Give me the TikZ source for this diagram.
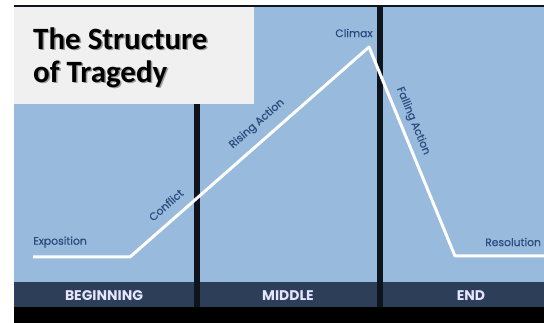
\documentclass[tikz,border=0pt]{standalone}
\usepackage{fontspec}
\setmainfont{Carlito}
\newfontfamily\labfont[FakeBold=0.4]{Poppins}
\newfontfamily\headfont{Poppins}
\definecolor{panelblue}{HTML}{98BADC}
\definecolor{headbar}{HTML}{2C3E58}
\definecolor{labblue}{HTML}{2B4A7D}
\definecolor{divcol}{HTML}{0E141C}
\definecolor{boxgrey}{HTML}{F0F0F0}
\tikzset{
  lab/.style={font=\labfont\fontsize{10.8}{11}\selectfont, text=labblue, inner sep=0pt},
  head/.style={font=\headfont\bfseries\fontsize{14}{15}\selectfont, text=white!90!blue, inner sep=0pt},
  plotline/.style={draw=white, line width=3pt, line join=round},
  divider/.style={fill=divcol, draw=none},
  ttl/.style={anchor=north west, align=left, font=\bfseries\fontsize{31}{33}\selectfont, inner sep=0pt}
}
\begin{document}
\begin{tikzpicture}[x=1pt,y=-1pt]
\useasboundingbox (0,0) rectangle (544,323);
\fill[white] (0,0) rectangle (544,323);
% panels
\fill[panelblue] (14,6) rectangle (544,282);
\fill[headbar] (14,282) rectangle (544,307);
\fill[black] (14,307) rectangle (544,323);
\fill[divcol] (14,5.5) rectangle (544,7);
\fill[divider] (194,6) rectangle (200,307);
\fill[divider] (377,6) rectangle (383,307);
% title box
\fill[boxgrey] (14,7) rectangle (254,104);
\node[ttl, text=black!40] (tshadow) at (34.5,29) {The Structure\\of Tragedy};
\node[ttl] (title) at (33,27.5) {The Structure\\of Tragedy};
% plot line
\coordinate (expo) at (33,257);
\coordinate (conf) at (130,257);
\coordinate (climax) at (369,47);
\coordinate (res) at (455,256);
\coordinate (endr) at (544,256);
\draw[plotline] (expo) -- (conf) -- (climax) -- (res) -- (endr);
% labels
\node[lab, anchor=west] (lexpo) at (33,242) {Exposition};
\node[lab, rotate=41.3] (lconf) at (166,205) {Conflict};
\node[lab, rotate=41.3] (lrise) at (257,124) {Rising Action};
\node[lab] (lclim) at (354,33) {Climax};
\node[lab, rotate=-67.6] (lfall) at (413,121) {Falling Action};
\node[lab, anchor=west] (lres) at (485,242) {Resolution};
% headers
\node[head] (hb) at (104,295.5) {BEGINNING};
\node[head] (hm) at (288,295.5) {MIDDLE};
\node[head] (he) at (471,295.5) {END};
\end{tikzpicture}
\end{document}
